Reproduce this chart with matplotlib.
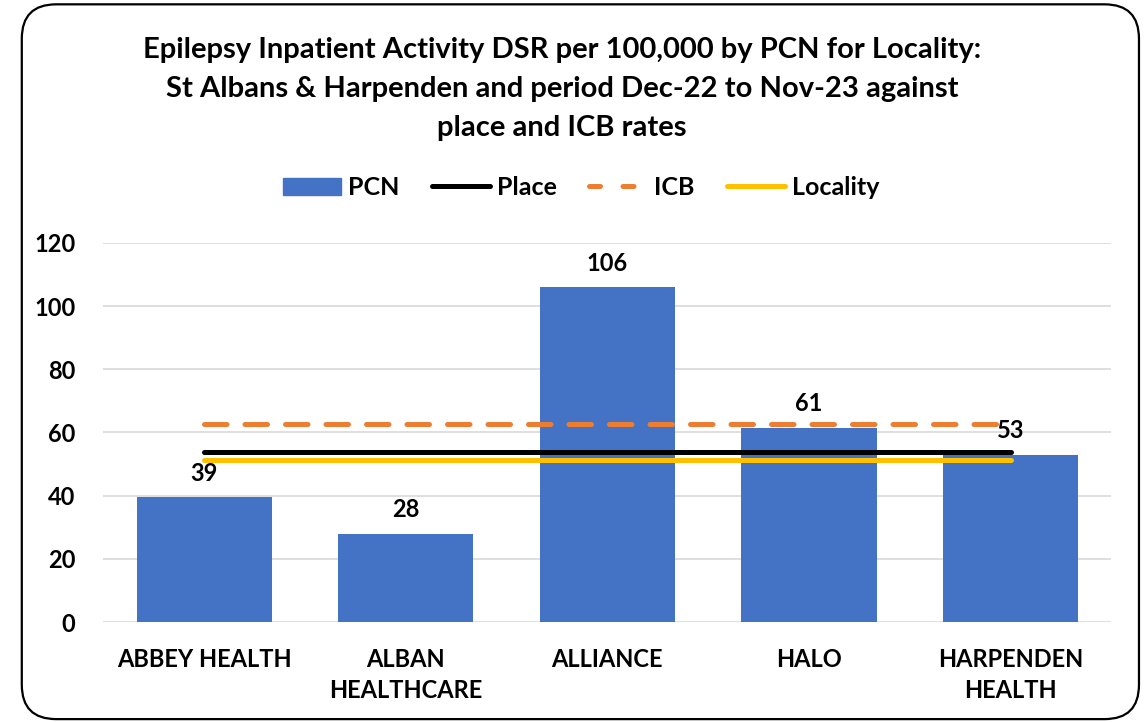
import matplotlib.pyplot as plt
from matplotlib.patches import FancyBboxPatch, Patch
from matplotlib.lines import Line2D
import numpy as np

plt.rcParams['font.family'] = ['Lato', 'DejaVu Sans']
plt.rcParams['font.weight'] = 'bold'

# Dane
pcns = ["ABBEY HEALTH", "ALBAN\nHEALTHCARE", "ALLIANCE", "HALO", "HARPENDEN\nHEALTH"]
pcn_values = [39.5, 28, 106, 61.5, 53]
pcn_labels = ["39", "28", "106", "61", "53"]
place_rate = 53.8
icb_rate = 62.7
locality_rate = 51.3

fig = plt.figure(figsize=(11.47, 7.22), dpi=100)
ax = fig.add_axes([0.09, 0.1385, 0.879, 0.525])

# ramka z zaokraglonymi rogami
frame = FancyBboxPatch((0.019, 0.004), 0.974, 0.99, boxstyle="round,pad=0,rounding_size=0.03",
                       transform=fig.transFigure, fill=False, edgecolor='black', linewidth=1.6,
                       mutation_aspect=1147 / 722)
fig.patches.append(frame)

x = np.arange(len(pcns))
ax.bar(x, pcn_values, width=0.67, color='#4472C4', zorder=2)
for xi, v, lab in zip(x, pcn_values, pcn_labels):
    ax.annotate(lab, (xi, v), xytext=(0, 9), textcoords='offset points',
                ha='center', va='bottom', fontsize=17, fontweight='bold')

ax.plot(x, [place_rate] * len(x), color='black', lw=3.6, solid_capstyle='round', zorder=3)
ax.plot(x, [icb_rate] * len(x), color='#ED7D31', lw=3.6, dashes=(4.5, 3.6),
        dash_capstyle='round', zorder=3)
ax.plot(x, [locality_rate] * len(x), color='#FFC000', lw=3.6, solid_capstyle='round', zorder=3)

ax.set_xlim(-0.5, 4.5)
ax.set_ylim(0, 120)
ax.set_yticks(range(0, 121, 20))
ax.set_xticks(x)
ax.set_xticklabels(pcns, fontsize=17, fontweight='bold', linespacing=1.4)
ax.tick_params(axis='y', labelsize=17, length=0, pad=20)
ax.tick_params(axis='x', length=0, pad=19)
ax.grid(axis='y', color='#d9d9d9', lw=1.2, zorder=0)
for s in ax.spines.values():
    s.set_visible(False)

fig.text(0.49, 0.877, "Epilepsy Inpatient Activity DSR per 100,000 by PCN for Locality:\n"
         "St Albans & Harpenden and period Dec-22 to Nov-23 against\nplace and ICB rates",
         ha='center', va='center', fontsize=21, fontweight='bold', linespacing=1.62)

handles = [Patch(color='#4472C4'),
           Line2D([], [], color='black', lw=3.6, solid_capstyle='round'),
           Line2D([], [], color='#ED7D31', lw=3.6, dashes=(2.2, 4.5), dash_capstyle='round'),
           Line2D([], [], color='#FFC000', lw=3.6, solid_capstyle='round')]
fig.legend(handles, ["PCN", "Place", "ICB", "Locality"], loc='center', bbox_to_anchor=(0.507, 0.74),
           ncol=4, frameon=False, fontsize=18, handlelength=2.3, handletextpad=0.3,
           columnspacing=1.3)

fig.savefig('out.png', dpi=100)
